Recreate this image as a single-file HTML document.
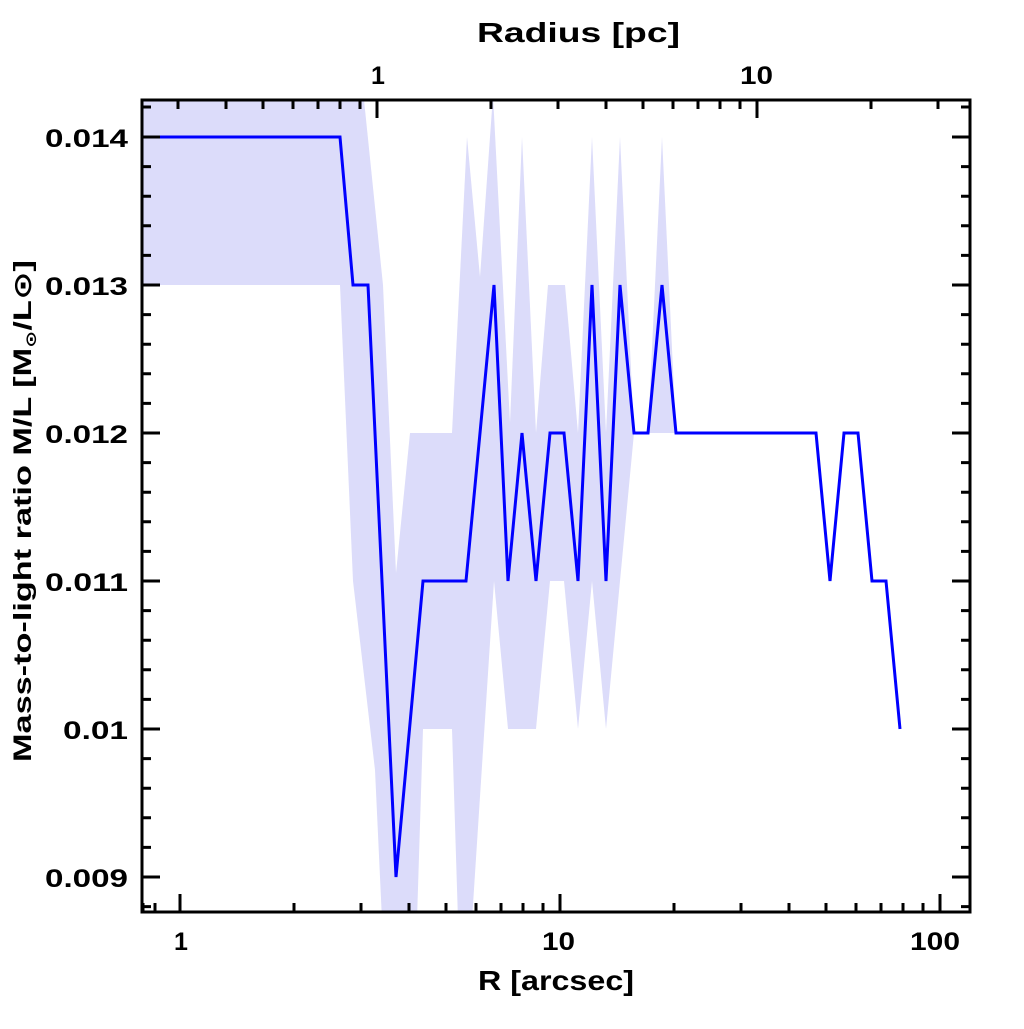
<!DOCTYPE html>
<html><head><style>body{margin:0;background:#fff}</style></head><body>
<svg width="1024" height="1024" viewBox="0 0 1024 1024" xmlns="http://www.w3.org/2000/svg" font-family="'Liberation Sans', 'DejaVu Sans', sans-serif" font-weight="bold">
<defs><clipPath id="c"><rect x="142" y="100" width="828" height="812"/></clipPath></defs>
<g clip-path="url(#c)">
<polygon fill="#dcdcfa" points="142,90 363,90 383,285 396,573 410,433 452,433 467,137 480,277 493,95 510,423 522,137 536,433 548,285 565,285 578,433 592,137 606,433 620,137 634,433 648,433 662,137 676,433 676,433 634,433 620,581 606,729 592,581 578,729 564,581 550,581 536,729 508,729 494,581 472,920 458,920 452,729 423,729 417,920 382,920 375,770 353,581 340,285 142,285"/>
<polyline fill="none" stroke="#0000ff" stroke-width="3" stroke-linejoin="miter" points="142,137 340,137 353,285 368,285 396,877 423,581 466,581 494,285 508,581 522,433 536,581 550,433 564,433 578,581 592,285 606,581 620,285 634,433 648,433 662,285 676,433 816,433 830,581 844,433 858,433 872,581 886,581 900,729"/>
</g>
<g stroke="#000" stroke-width="3">
<rect x="142" y="100" width="828" height="812" fill="none"/>
<path d="M142,137h18M142,285h18M142,433h18M142,581h18M142,729h18M142,877h18M970,137h-18M970,285h-18M970,433h-18M970,581h-18M970,729h-18M970,877h-18
M142,107h9M142,166.6h9M142,196.2h9M142,225.8h9M142,255.4h9M142,314.6h9M142,344.2h9M142,373.8h9M142,403.4h9M142,462.6h9M142,492.2h9M142,521.8h9M142,551.4h9M142,610.6h9M142,640.2h9M142,669.8h9M142,699.4h9M142,758.6h9M142,788.2h9M142,817.8h9M142,847.4h9M142,906.6h9
M970,107h-9M970,166.6h-9M970,196.2h-9M970,225.8h-9M970,255.4h-9M970,314.6h-9M970,344.2h-9M970,373.8h-9M970,403.4h-9M970,462.6h-9M970,492.2h-9M970,521.8h-9M970,551.4h-9M970,610.6h-9M970,640.2h-9M970,669.8h-9M970,699.4h-9M970,758.6h-9M970,788.2h-9M970,817.8h-9M970,847.4h-9M970,906.6h-9
M180,912v-18M560,912v-18M940,912v-18
M143,912v-9M155,912v-9M294,912v-9M361,912v-9M409,912v-9M446,912v-9M476,912v-9M501,912v-9M523,912v-9M543,912v-9M674,912v-9M741,912v-9M789,912v-9M826,912v-9M856,912v-9M881,912v-9M903,912v-9M923,912v-9
M377,100v18M757,100v18
M178,100v9M226,100v9M263,100v9M293,100v9M318,100v9M340,100v9M360,100v9M491,100v9M558,100v9M606,100v9M643,100v9M673,100v9M698,100v9M720,100v9M740,100v9M871,100v9M938,100v9"/>
</g>
<g font-size="25" fill="#000">
<text x="45" y="147" textLength="83" lengthAdjust="spacingAndGlyphs">0.014</text>
<text x="45" y="295" textLength="83" lengthAdjust="spacingAndGlyphs">0.013</text>
<text x="45" y="443" textLength="83" lengthAdjust="spacingAndGlyphs">0.012</text>
<text x="45" y="591" textLength="83" lengthAdjust="spacingAndGlyphs">0.011</text>
<text x="63" y="739" textLength="65" lengthAdjust="spacingAndGlyphs">0.01</text>
<text x="45" y="887" textLength="83" lengthAdjust="spacingAndGlyphs">0.009</text>
<text x="174" y="950">1</text>
<text x="542" y="950" textLength="33" lengthAdjust="spacingAndGlyphs">10</text>
<text x="910" y="950" textLength="50" lengthAdjust="spacingAndGlyphs">100</text>
<text x="371" y="84">1</text>
<text x="740" y="84" textLength="33" lengthAdjust="spacingAndGlyphs">10</text>
<text x="478" y="990" font-size="28" textLength="156" lengthAdjust="spacingAndGlyphs">R [arcsec]</text>
<text x="477" y="42" font-size="28" textLength="203" lengthAdjust="spacingAndGlyphs">Radius [pc]</text>
<text transform="translate(31,762) rotate(-90)" font-size="25" textLength="502" lengthAdjust="spacingAndGlyphs">Mass-to-light ratio M/L [M<tspan font-size="15" dy="5">⊙</tspan><tspan dy="-5">/L⊙]</tspan></text>
</g>
</svg>
</body></html>
